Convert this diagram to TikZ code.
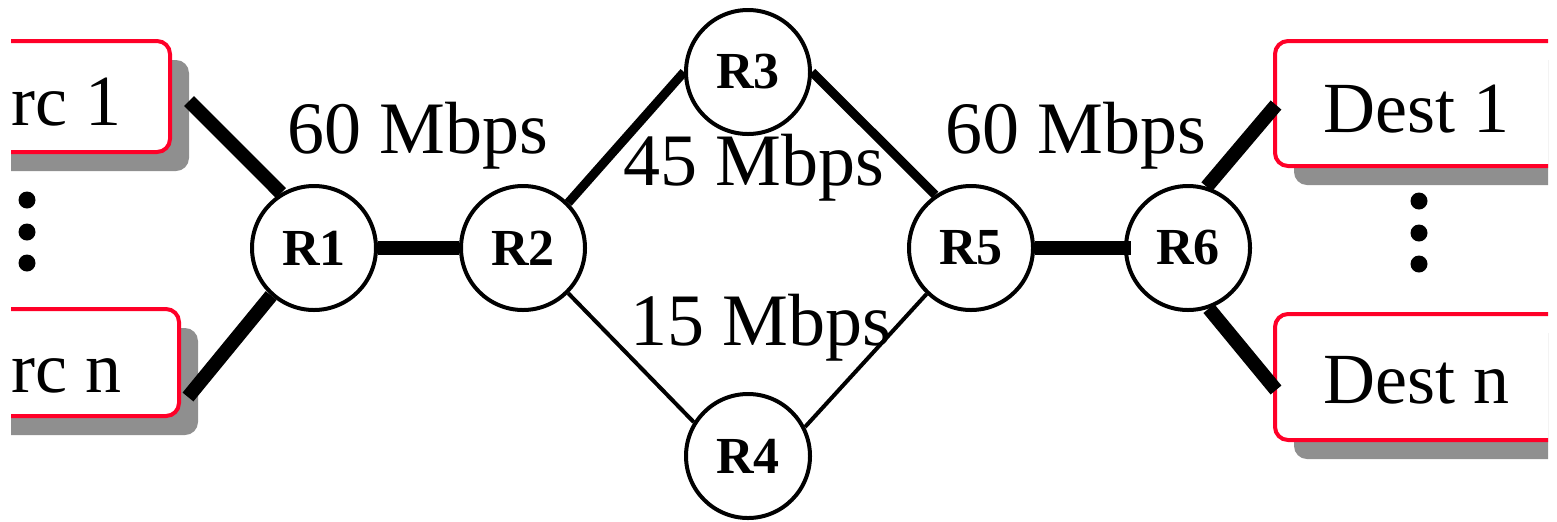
\documentclass[tikz,border=0pt]{standalone}
\usepackage{fontspec}
\setmainfont{Liberation Serif}
\usetikzlibrary{calc,shadows}
\definecolor{boxred}{RGB}{255,0,40}
\definecolor{shade}{RGB}{143,143,143}
\begin{document}
\begin{tikzpicture}[x=0.5pt,y=-0.5pt,
  router/.style={circle,draw,line width=2pt,minimum size=62pt,inner sep=0pt,
    font=\fontsize{26}{30}\selectfont\bfseries},
  hostbox/.style={rectangle,draw=boxred,line width=2pt,rounded corners=6.5pt,fill=white,
    inner sep=0pt,drop shadow={shadow xshift=9.5pt,shadow yshift=-9.5pt,fill=shade,opacity=1}},
  rate/.style={anchor=base west,inner sep=0pt,font=\fontsize{37}{44}\selectfont},
  hostlabel/.style={anchor=base west,inner sep=0pt,font=\fontsize{36}{43}\selectfont},
  fat/.style={line width=7pt},
  mid/.style={line width=4.5pt},
  slim/.style={line width=2pt},
  dotmark/.style={circle,fill,inner sep=0pt,minimum size=8.5pt}
]
\useasboundingbox (0,0) rectangle (1557,521);

% end hosts, cut off at the page sides
\begin{scope}
  \clip (11,-20) rectangle (1548,540);
  \node[hostbox,minimum width=125pt,minimum height=55.5pt] (src1) at (45,96.5) {};
  \node[hostbox,minimum width=125pt,minimum height=53.5pt] (srcn) at (54,362.5) {};
  \node[hostbox,minimum width=162.5pt,minimum height=62.5pt] (dest1) at (1437.5,103.5) {};
  \node[hostbox,minimum width=162.5pt,minimum height=63pt] (destn) at (1437.5,377) {};
\end{scope}

\node[hostlabel] (src1t) at (11,125) {rc 1};
\node[hostlabel] (srcnt) at (11,392) {rc n};
\node[hostlabel] (dest1t) at (1323,132) {Dest 1};
\node[hostlabel] (destnt) at (1323,403) {Dest n};

% vertical ellipses between the hosts
\foreach \y [count=\i] in {200,232,263} {
  \node[dotmark] (ldot\i) at (27,\y) {};
  \node[dotmark] (rdot\i) at (1419,\y+1) {};
}

% routers
\node[router] (R1) at (314,248) {R1};
\node[router] (R2) at (523,248) {R2};
\node[router] (R3) at (748,72) {R3};
\node[router] (R4) at (748,456) {R4};
\node[router] (R5) at (971,248) {R5};
\node[router] (R6) at (1188,248) {R6};

% attachment points at the host boxes
\coordinate (s1p) at ($(src1.east)+(17,4.5)$);
\coordinate (snp) at ($(srcn.east)+(7,34.5)$);
\coordinate (d1p) at ($(dest1.west)+(3,1.5)$);
\coordinate (dnp) at ($(destn.west)+(3,13)$);

% links
\draw[fat] (s1p) -- (R1.121);
\draw[fat] (snp) -- (R1.228);
\draw[fat] (R1.east) -- (R2.west);
\draw[mid] (R2.45) -- (R3.west);
\draw[mid] (R3.east) -- (R5.124);
\draw[slim] (R2.-45) -- (R4.148);
\draw[slim] (R4.27) -- (R5.226);
\draw[fat] (R5.east) -- ($(R6.west)+(7,0)$);
\draw[fat] (R6.73) -- (d1p);
\draw[fat] (R6.-71) -- (dnp);

% link rates
\node[rate] (rate1) at (287,153) {60 Mbps};
\node[rate] (rate2) at (623,185) {45 Mbps};
\node[rate] (rate3) at (630,345) {15 Mbps};
\node[rate] (rate4) at (945,153) {60 Mbps};
\end{tikzpicture}
\end{document}
